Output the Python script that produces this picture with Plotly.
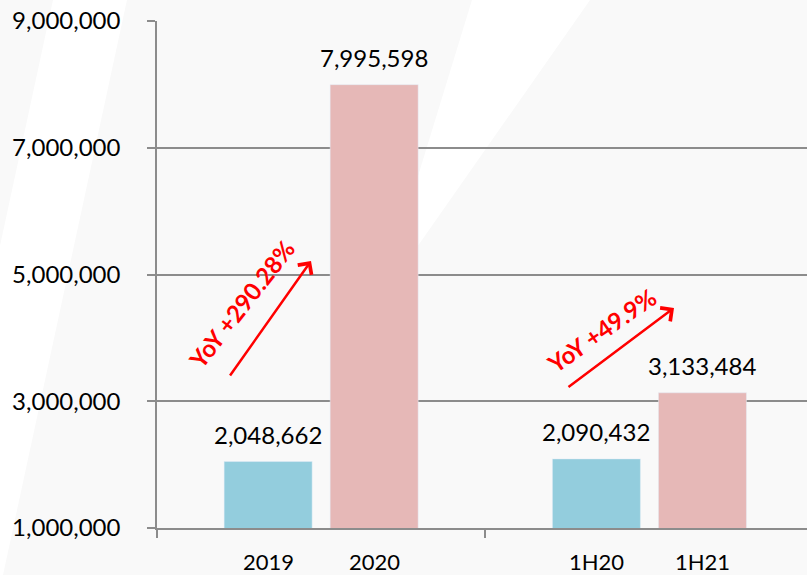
import plotly.graph_objects as go

# ---- data ----
groups = ["FY", "1H"]
prior_labels = ["2019", "1H20"]
current_labels = ["2020", "1H21"]
prior_values = [2048662, 2090432]
current_values = [7995598, 3133484]
yoy_labels = ["YoY +290.28%", "YoY +49.9%"]
y_ticks = [1000000, 3000000, 5000000, 7000000, 9000000]

# ---- style ----
W, H = 807, 575
ML, MR, MT, MB = 157, 0, 21, 47
PW, PH = W - ML - MR, H - MT - MB
XRANGE = [-0.5, 1.48]
BARGAP, BARGROUPGAP = 0.354, 0.17
BLUE, PINK = "#93CDDD", "#E6B8B7"
GRID = "#8C8C8C"
FONT = "Lato, 'Open Sans', sans-serif"

cat_px = PW / (XRANGE[1] - XRANGE[0])
slot_half = (1 - BARGAP) * cat_px / 4  # pixel offset of each bar centre from its category centre


def px2paper(px, py):
    return (px - ML) / PW, (H - MB - py) / PH


fig = go.Figure()
fig.add_trace(go.Bar(x=groups, y=prior_values, marker_color=BLUE, name="prior",
                     hoverinfo="y"))
fig.add_trace(go.Bar(x=groups, y=current_values, marker_color=PINK, name="current",
                     hoverinfo="y"))

annotations = []
for g, pl, cl, pv, cv in zip(groups, prior_labels, current_labels, prior_values, current_values):
    for lab, val, sh in ((pl, pv, -slot_half), (cl, cv, slot_half)):
        # value label above bar
        annotations.append(dict(x=g, y=val, xref="x", yref="y", text=f"{val:,}",
                                showarrow=False, xshift=sh, yshift=27, yanchor="middle",
                                font=dict(family=FONT, size=24, color="#000000")))
        # category label below axis
        annotations.append(dict(x=g, y=0, xref="x", yref="paper", text=lab,
                                showarrow=False, xshift=sh, yshift=-33, yanchor="middle",
                                borderpad=0,
                                font=dict(family=FONT, size=22, color="#000000")))

# YoY arrows and rotated labels (decorative)
arrows = [((311, 261), (-82, 116)), ((674, 308), (-107, 80))]
texts = [((241, 304), -52), ((601, 330), -35)]
for (head, (ax, ay)), ((tx, ty), ang), lab in zip(arrows, texts, yoy_labels):
    hx, hy = px2paper(*head)
    annotations.append(dict(x=hx, y=hy, xref="paper", yref="paper", text="",
                            showarrow=True, ax=ax, ay=ay, arrowhead=4, arrowsize=1.3,
                            arrowwidth=2.5, arrowcolor="#FF0000"))
    px_, py_ = px2paper(tx, ty)
    annotations.append(dict(x=px_, y=py_, xref="paper", yref="paper", text=f"<b>{lab}</b>",
                            showarrow=False, textangle=ang, xanchor="center", yanchor="middle",
                            font=dict(family=FONT, size=24, color="#FF0000")))

# faint white background stripes
stripes = [
    [(53, 0), (127, 0), (3, 575), (-71, 575)],
    [(472, 0), (590, 0), (380, 300)],
]
shapes = []
for poly in stripes:
    pts = [px2paper(*p) for p in poly]
    path = "M " + " L ".join(f"{x:.4f},{y:.4f}" for x, y in pts) + " Z"
    shapes.append(dict(type="path", path=path, xref="paper", yref="paper",
                       fillcolor="#FFFFFF", line=dict(width=0), layer="below"))

fig.update_layout(
    width=W, height=H,
    margin=dict(l=ML, r=MR, t=MT, b=MB, pad=0),
    paper_bgcolor="#F9F9F9",
    plot_bgcolor="rgba(0,0,0,0)",
    barmode="group", bargap=BARGAP, bargroupgap=BARGROUPGAP,
    showlegend=False,
    annotations=annotations,
    shapes=shapes,
    font=dict(family=FONT, color="#000000"),
)
fig.update_xaxes(type="category", range=XRANGE, showticklabels=False,
                 tickson="boundaries", ticks="outside", ticklen=8, tickwidth=1.5,
                 tickcolor=GRID, showline=True, linecolor=GRID, linewidth=1.5,
                 showgrid=False, zeroline=False, fixedrange=True)
fig.update_yaxes(range=[y_ticks[0], y_ticks[-1]], tickvals=y_ticks, tickformat=",",
                 ticks="outside", ticklen=8, tickwidth=1.5, tickcolor=GRID,
                 ticklabelstandoff=22,
                 tickfont=dict(family=FONT, size=24, color="#000000"),
                 showgrid=True, gridcolor=GRID, gridwidth=1.5,
                 showline=True, linecolor=GRID, linewidth=1.5, zeroline=False,
                 fixedrange=True)

fig.write_html("out.html", config={"displayModeBar": False},
               post_script="document.body.style.margin='0';document.body.style.overflow='hidden';")
